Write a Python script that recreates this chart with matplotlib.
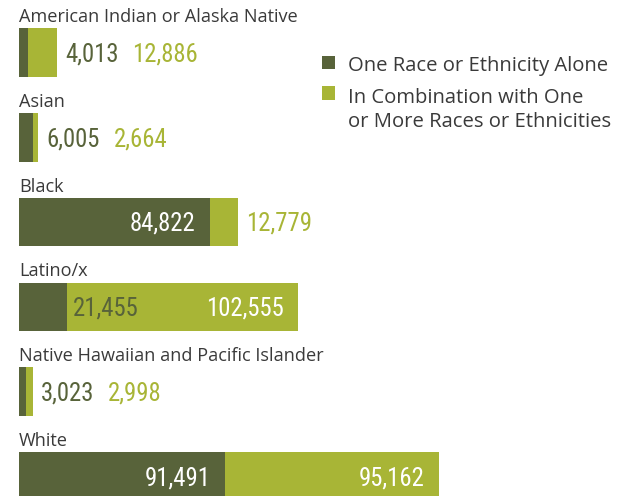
import matplotlib
matplotlib.use('Agg')
import matplotlib.pyplot as plt
from matplotlib.patches import Rectangle

categories = ["American Indian or Alaska Native", "Asian", "Black", "Latino/x",
              "Native Hawaiian and Pacific Islander", "White"]
alone = [4013, 6005, 84822, 21455, 3023, 91491]
combo = [12886, 2664, 12779, 102555, 2998, 95162]
series_names = ["One Race or Ethnicity Alone",
                "In Combination with One\nor More Races or Ethnicities"]

DARK = '#58633a'
LIGHT = '#a8b536'
TEXT = '#3a3a3a'
W, H = 626, 496

fig = plt.figure(figsize=(W / 100, H / 100), dpi=100)
ax = fig.add_axes([0, 0, 1, 1])
scale = 0.0022486  # px per unit
x0px = 19
ax.set_xlim(-x0px / scale, (W - x0px) / scale)
pitch = 84.75
c0 = 52.5
ax.set_ylim((H - c0) / pitch, -c0 / pitch)
ax.axis('off')

n = len(categories)
bh = 48.5 / pitch
ypos = list(range(n))
ax.barh(ypos, alone, height=bh, color=DARK, linewidth=0)
ax.barh(ypos, combo, left=alone, height=bh, color=LIGHT, linewidth=0)

labfont = dict(family=['Open Sans', 'DejaVu Sans'], fontsize=13.1, color=TEXT)
for i, cat in enumerate(categories):
    ax.text(0, i - bh / 2 - 6 / pitch, cat, va='baseline', ha='left', **labfont)

numfont = dict(family=['Roboto Condensed', 'Roboto', 'DejaVu Sans'],
               fontstretch='condensed', fontweight='normal', fontsize=17.8)

fig.canvas.draw()
r = fig.canvas.get_renderer()
to_px = ax.transData.transform
from_px = ax.transData.inverted().transform


def put(xpx, ypx, s, color, ha):
    x, y = from_px((xpx, ypx))
    return ax.text(x, y, s, color=color, ha=ha, va='baseline', **numfont)


def width_of(s):
    t = put(300, 300, s, 'k', 'left')
    w = t.get_window_extent(r).width
    t.remove()
    return w


PAD_IN = 14
for i in range(n):
    cy = to_px((0, i))[1]
    base = cy - 9.0
    xs = to_px((0, i))[0]
    xd = to_px((alone[i], i))[0]
    xe = to_px((alone[i] + combo[i], i))[0]
    s1 = f"{alone[i]:,}"
    s2 = f"{combo[i]:,}"
    w1 = width_of(s1)
    w2 = width_of(s2)
    light_w = xe - xd
    cursor = None
    # dark label
    if xd - xs > w1 + 2 * PAD_IN:
        put(xd - PAD_IN, base, s1, 'white', 'right')
    elif light_w > w1 + w2 + 3 * PAD_IN:
        put(xd + 6, base, s1, DARK, 'left')
    else:
        t1 = put(xe + 8, base, s1, DARK, 'left')
        cursor = t1.get_window_extent(r).x1
    # light label
    if light_w > w2 + 2 * PAD_IN:
        put(xe - PAD_IN, base, s2, 'white', 'right')
    elif cursor is not None:
        put(cursor + 14, base, s2, LIGHT, 'left')
    else:
        put(xe + 8, base, s2, LIGHT, 'left')

# legend
sq = 13.5
legfont = dict(family=['Open Sans', 'DejaVu Sans'], fontsize=14.6, color=TEXT)
for (top, color, label, baseline) in [(55.5, DARK, series_names[0], 71),
                                      (86, LIGHT, series_names[1], 127.3)]:
    fig.patches.append(Rectangle((321.7 / W, 1 - (top + sq) / H), sq / W, sq / H,
                                 transform=fig.transFigure, color=color, linewidth=0))
    fig.text(348 / W, 1 - baseline / H, label, va='baseline', ha='left',
             linespacing=1.3, **legfont)

fig.savefig('out.png', dpi=100)
